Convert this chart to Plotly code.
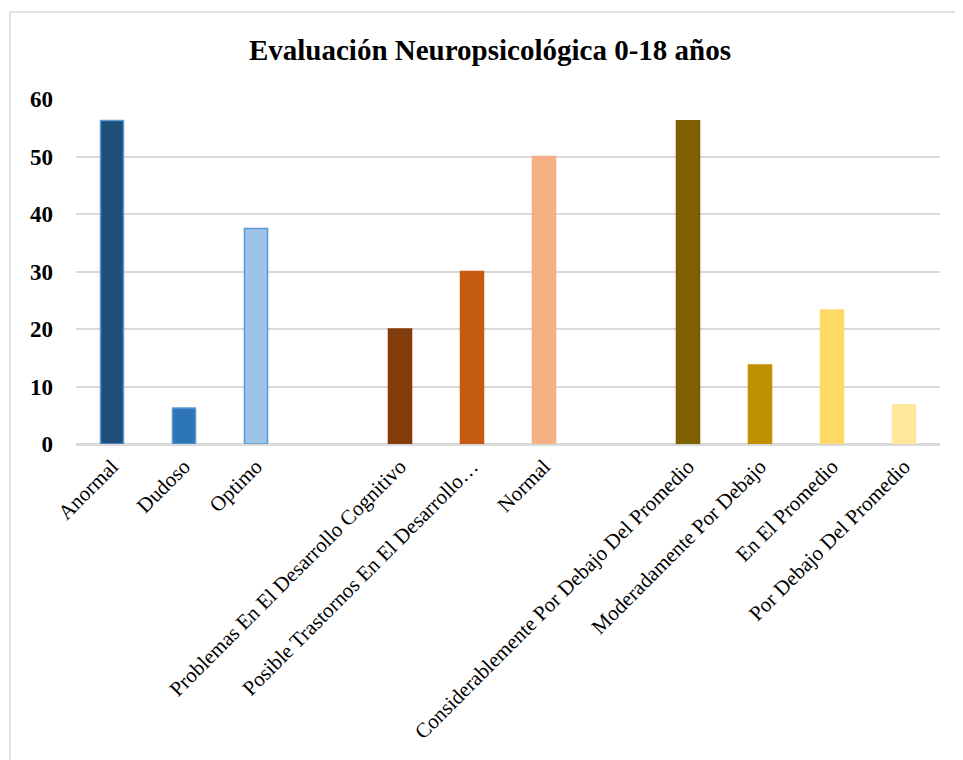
import plotly.graph_objects as go

categories = ["Anormal", "Dudoso", "Optimo", " ",
              "Problemas En El Desarrollo Cognitivo",
              "Posible Trastornos En El Desarrollo…", "Normal", "  ",
              "Considerablemente Por Debajo Del Promedio",
              "Moderadamente Por Debajo", "En El Promedio",
              "Por Debajo Del Promedio"]
values = [56.25, 6.25, 37.5, None, 20, 30, 50, None, 56.2, 13.75, 23.3, 6.8]
colors = ["#1F4E79", "#2E75B6", "#9DC3E6", "#FFFFFF",
          "#843C0C", "#C55A11", "#F4B183", "#FFFFFF",
          "#7F6000", "#BF9000", "#FFD966", "#FFE699"]
outlines = ["#5B9BD5", "#5B9BD5", "#5B9BD5", "#FFFFFF",
            "#843C0C", "#C55A11", "#F4B183", "#FFFFFF",
            "#7F6000", "#BF9000", "#FFD966", "#FFE699"]
y_ticks = [0, 10, 20, 30, 40, 50, 60]

FONT = "Liberation Serif, Times New Roman, serif"

fig = go.Figure(go.Bar(
    x=categories, y=values,
    marker=dict(color=colors, line=dict(color=outlines, width=1.5)),
    width=0.32,
))

fig.update_layout(
    width=963, height=760,
    margin=dict(l=68, r=31, t=91, b=324),
    paper_bgcolor="white", plot_bgcolor="white",
    font=dict(family=FONT, color="black"),
    title=dict(text="<b>Evaluación Neuropsicológica 0-18 años</b>",
               font=dict(family=FONT, size=29, color="black"),
               x=0.5005, xanchor="center", xref="container",
               y=0.9447, yanchor="middle", yref="container"),
    showlegend=False,
    xaxis=dict(type="category", categoryorder="array", categoryarray=categories,
               tickangle=-45, tickfont=dict(family=FONT, size=21, color="black"),
               showgrid=False, showline=True, linecolor="#D9D9D9", linewidth=2,
               ticks=""),
    yaxis=dict(range=[0, 60], tickvals=y_ticks,
               tickfont=dict(family=FONT, size=23, color="black", weight="bold"),
               showgrid=True, gridcolor="#D9D9D9", gridwidth=1.5,
               zeroline=True, zerolinecolor="#D9D9D9", zerolinewidth=2,
               showline=False, ticks="", ticklabelstandoff=22),
    shapes=[dict(type="rect", xref="paper", yref="paper",
                 x0=(10 - 76) / 864, x1=1.2, y0=-2, y1=1 + (99 - 12) / 345,
                 line=dict(color="#D9D9D9", width=1.5), fillcolor="rgba(0,0,0,0)",
                 layer="below")],
)

fig.write_html("out.html")
